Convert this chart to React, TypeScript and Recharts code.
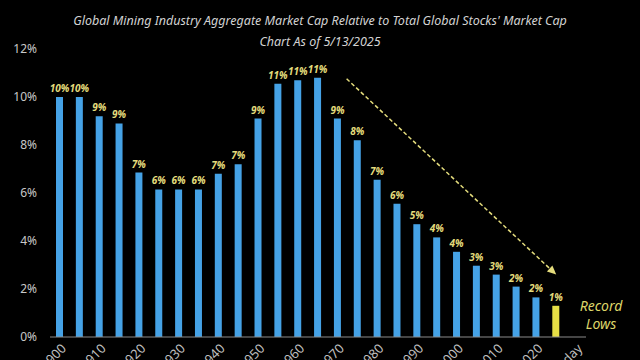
import { BarChart, Bar, XAxis, YAxis, Cell, LabelList, ReferenceLine } from 'recharts';

// five-year periods, last category is the "Today" label slot
const periods = [
  '1900', '1905', '1910', '1915', '1920', '1925', '1930', '1935', '1940', '1945',
  '1950', '1955', '1960', '1965', '1970', '1975', '1980', '1985', '1990', '1995',
  '2000', '2005', '2010', '2015', '2020', '2025', 'Today',
];

// mining share of global market cap, %
const mcapPct: (number | null)[] = [
  10.0, 10.0, 9.2, 8.9, 6.85, 6.15, 6.15, 6.15, 6.8, 7.2,
  9.1, 10.55, 10.7, 10.8, 9.1, 8.2, 6.55, 5.55, 4.7, 4.15,
  3.55, 2.97, 2.6, 2.1, 1.65, 1.3, null,
];

const yTicks = [0, 2, 4, 6, 8, 10, 12];

const trendFrom = { x: '1970', y: 11.1 };
const trendTo = { x: '2025', y: 2.6 };

const data = periods.map((p, i) => ({ period: p, value: mcapPct[i] }));
const lastIdx = mcapPct.filter((v) => v != null).length - 1;

const BLUE = '#45a2e6';
const YELLOW = '#e6de45';
const LABEL = '#e4dc7c';
const font = '"Noto Sans", sans-serif';

const PeriodTick = (props: any) => {
  const { x, y, payload } = props;
  return (
    <text
      x={x}
      y={y}
      transform={`rotate(-45, ${x}, ${y})`}
      textAnchor="end"
      fill="#bdbdbd"
      fontSize={13}
      fontFamily={font}
      dx={2}
      dy={8}
    >
      {payload.value}
    </text>
  );
};

const TrendArrow = (p: any) => {
  const { x1, y1, x2, y2 } = p;
  const ang = Math.atan2(y2 - y1, x2 - x1);
  const c = Math.cos(ang);
  const s = Math.sin(ang);
  const sx = x1 + 12 * c;
  const sy = y1 + 12 * s;
  const bx = x2 - 9 * c;
  const by = y2 - 9 * s;
  const w = 4;
  const pts = `${x2},${y2} ${bx - w * s},${by + w * c} ${bx + w * s},${by - w * c}`;
  return (
    <g>
      <line x1={sx} y1={sy} x2={bx} y2={by} stroke={LABEL} strokeWidth={1.5} strokeDasharray="4 2.5" />
      <polygon points={pts} fill={LABEL} />
    </g>
  );
};

export default function App() {
  return (
    <div
      style={{
        position: 'fixed',
        left: 0,
        top: 0,
        width: 640,
        height: 360,
        overflow: 'hidden',
        background: '#000',
        fontFamily: font,
      }}
    >
      <div
        style={{
          position: 'absolute',
          left: 0,
          top: 10,
          width: 640,
          textAlign: 'center',
          color: '#d2d2d2',
          fontStyle: 'italic',
          fontSize: 12.5,
          lineHeight: '21px',
        }}
      >
        <div>Global Mining Industry Aggregate Market Cap Relative to Total Global Stocks' Market Cap</div>
        <div>Chart As of 5/13/2025</div>
      </div>
      <BarChart
        width={640}
        height={420}
        data={data}
        margin={{ top: 49, right: 54, left: 0, bottom: 23 }}
        barSize={7}
      >
        <YAxis
          domain={[0, 12]}
          ticks={yTicks}
          width={50}
          axisLine={false}
          tickLine={false}
          tickSize={0}
          tickMargin={13}
          tickFormatter={(v: number) => `${v}%`}
          tick={{ fill: '#c8c8c8', fontSize: 12, fontFamily: font }}
        />
        <XAxis
          dataKey="period"
          interval={1}
          height={60}
          tickLine={false}
          tickSize={0}
          tickMargin={8}
          axisLine={{ stroke: '#8a8a8a', strokeWidth: 1 }}
          tick={<PeriodTick />}
        />
        <Bar dataKey="value" isAnimationActive={false}>
          {data.map((d, i) => (
            <Cell key={d.period} fill={i === lastIdx ? YELLOW : BLUE} />
          ))}
          <LabelList
            dataKey="value"
            position="top"
            offset={5}
            formatter={(v: any) => (v == null ? '' : `${Math.round(v)}%`)}
            fill={LABEL}
            fontSize={10}
            fontWeight={700}
            fontStyle="italic"
            fontFamily={font}
          />
        </Bar>
        <ReferenceLine segment={[trendFrom, trendTo]} shape={TrendArrow} />
      </BarChart>
      <div
        style={{
          position: 'absolute',
          left: 572,
          top: 297,
          width: 58,
          textAlign: 'center',
          color: '#ddd569',
          fontStyle: 'italic',
          fontSize: 14,
          lineHeight: '18px',
        }}
      >
        <div>Record</div>
        <div>Lows</div>
      </div>
    </div>
  );
}
